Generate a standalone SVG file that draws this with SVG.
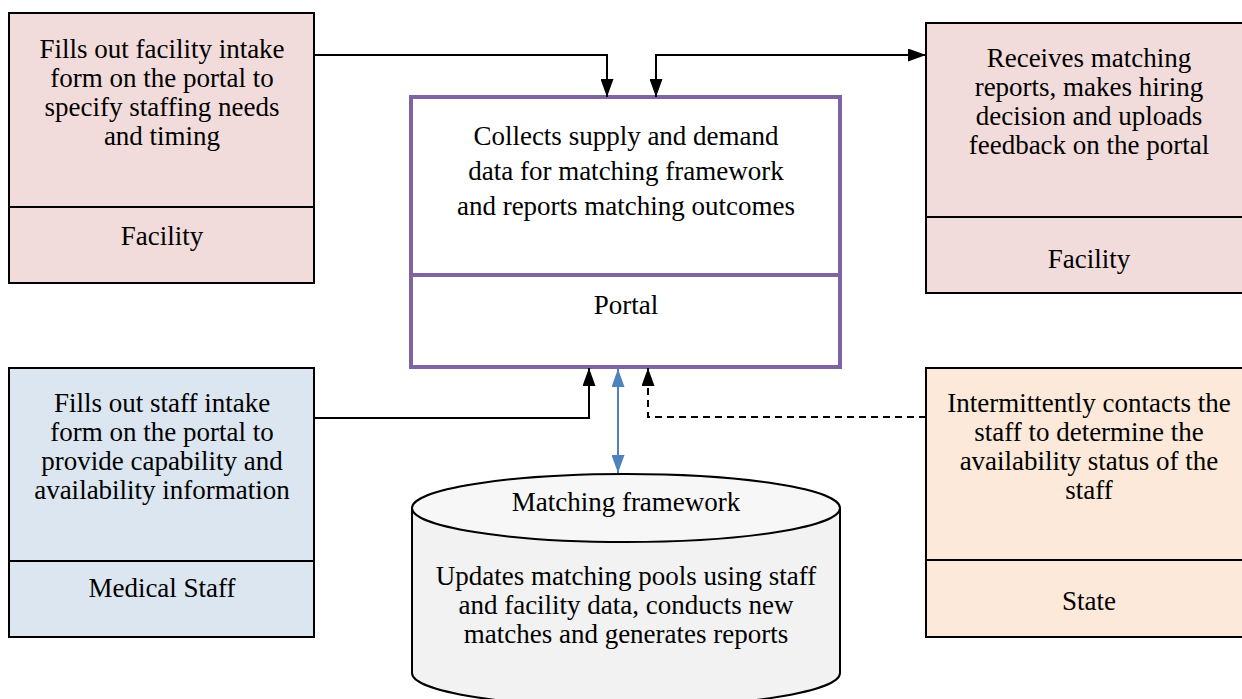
<svg xmlns="http://www.w3.org/2000/svg" width="1242" height="699" viewBox="0 0 1242 699">
<defs>
<marker id="ah2" viewBox="0 0 10 10" refX="10" refY="5" markerWidth="18" markerHeight="13" markerUnits="userSpaceOnUse" orient="auto-start-reverse" preserveAspectRatio="none"><path d="M0,0L10,5L0,10z" fill="#000"/></marker>
<marker id="ahb" viewBox="0 0 10 10" refX="10" refY="5" markerWidth="18" markerHeight="13" markerUnits="userSpaceOnUse" orient="auto-start-reverse" preserveAspectRatio="none"><path d="M0,0L10,5L0,10z" fill="#4F81BD"/></marker>
</defs>
<g font-family="Liberation Serif, serif" font-size="27" text-anchor="middle" fill="#000">
<g id="facility-left">
<rect x="9" y="13" width="305" height="270" fill="#F2DCDB" stroke="#000" stroke-width="2"/>
<line x1="9" y1="207" x2="314" y2="207" stroke="#000" stroke-width="2"/>
<text x="162" y="58">Fills out facility intake</text>
<text x="162" y="87">form on the portal to</text>
<text x="162" y="116">specify staffing needs</text>
<text x="162" y="145">and timing</text>
<text x="162" y="245">Facility</text>
</g>
<g id="portal">
<rect x="411" y="97" width="429" height="270" fill="#fff" stroke="#8064A2" stroke-width="4"/>
<line x1="411" y1="275" x2="840" y2="275" stroke="#8064A2" stroke-width="4"/>
<text x="626" y="145">Collects supply and demand</text>
<text x="626" y="180">data for matching framework</text>
<text x="626" y="215">and reports matching outcomes</text>
<text x="626" y="314">Portal</text>
</g>
<g id="facility-right">
<rect x="926" y="23" width="326" height="270" fill="#F2DCDB" stroke="#000" stroke-width="2"/>
<line x1="926" y1="217" x2="1252" y2="217" stroke="#000" stroke-width="2"/>
<text x="1089" y="67">Receives matching</text>
<text x="1089" y="96">reports, makes hiring</text>
<text x="1089" y="125">decision and uploads</text>
<text x="1089" y="154">feedback on the portal</text>
<text x="1089" y="268">Facility</text>
</g>
<g id="medical-staff">
<rect x="9" y="368" width="305" height="269" fill="#DCE6F1" stroke="#000" stroke-width="2"/>
<line x1="9" y1="561" x2="314" y2="561" stroke="#000" stroke-width="2"/>
<text x="162" y="412">Fills out staff intake</text>
<text x="162" y="441">form on the portal to</text>
<text x="162" y="470">provide capability and</text>
<text x="162" y="499">availability information</text>
<text x="162" y="597">Medical Staff</text>
</g>
<g id="state">
<rect x="926" y="368" width="326" height="269" fill="#FDE9D9" stroke="#000" stroke-width="2"/>
<line x1="926" y1="560" x2="1252" y2="560" stroke="#000" stroke-width="2"/>
<text x="1089" y="412">Intermittently contacts the</text>
<text x="1089" y="441">staff to determine the</text>
<text x="1089" y="470">availability status of the</text>
<text x="1089" y="499">staff</text>
<text x="1089" y="610">State</text>
</g>
<g id="matching-framework">
<path d="M412,508 L412,673 A214,34 0 0 0 840,673 L840,508" fill="#F2F2F2" stroke="#000" stroke-width="2"/>
<ellipse cx="626" cy="508" rx="214" ry="34" fill="#F7F7F7" stroke="#000" stroke-width="2"/>
<text x="626" y="511">Matching framework</text>
<text x="626" y="585">Updates matching pools using staff</text>
<text x="626" y="614">and facility data, conducts new</text>
<text x="626" y="643">matches and generates reports</text>
</g>
</g>
<g id="connectors" fill="none" stroke="#000" stroke-width="2">
<path d="M314,55 L607,55 L607,97" marker-end="url(#ah2)"/>
<path d="M656,97 L656,55 L926,55" marker-start="url(#ah2)" marker-end="url(#ah2)"/>
<path d="M314,418 L589,418 L589,368" marker-end="url(#ah2)"/>
<path d="M926,417 L648,417 L648,368" stroke-dasharray="7,5" marker-end="url(#ah2)"/>
<path d="M618,369 L618,473" stroke="#4F81BD" marker-start="url(#ahb)" marker-end="url(#ahb)"/>
</g>
</svg>
